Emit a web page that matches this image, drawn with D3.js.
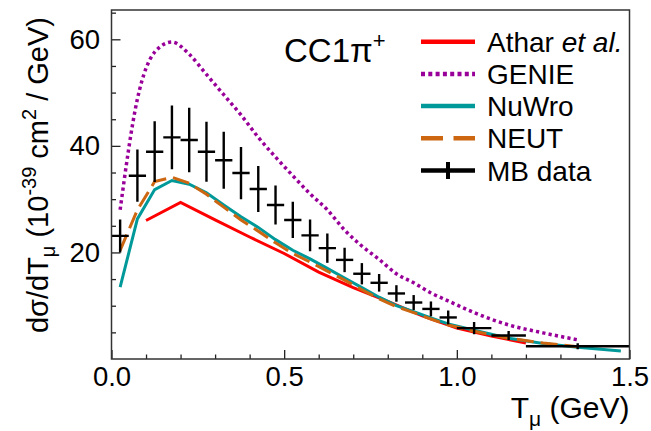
<!DOCTYPE html>
<html><head><meta charset="utf-8">
<script src="https://cdn.jsdelivr.net/npm/d3@7"></script>
<style>
body{margin:0;background:#fff}
svg{display:block}
text{font-family:"Liberation Sans",Arial,Helvetica,sans-serif;fill:#000}
</style>
</head><body>
<svg id="chart" width="651" height="431"></svg>
<script>
// ---------- data ----------
const xTicks = [0, 0.5, 1.0, 1.5];
const xTickLabels = ["0.0", "0.5", "1.0", "1.5"];
const xMinorTicks = [0.1,0.2,0.3,0.4,0.6,0.7,0.8,0.9,1.1,1.2,1.3,1.4];
const yTicks = [20, 40, 60];
const yTickLabels = ["20", "40", "60"];
const yMinorTicks = [5,10,15,25,30,35,45,50,55,65];

// MiniBooNE data
const mbLo  = [0,0.05,0.1,0.15,0.2,0.25,0.3,0.35,0.4,0.45,0.5,0.55,0.6,0.65,0.7,0.75,0.8,0.85,0.9,0.95,1.0,1.1,1.2];
const mbHi  = [0.05,0.1,0.15,0.2,0.25,0.3,0.35,0.4,0.45,0.5,0.55,0.6,0.65,0.7,0.75,0.8,0.85,0.9,0.95,1.0,1.1,1.2,1.5];
const mbT   = [0.025,0.075,0.125,0.175,0.225,0.275,0.325,0.375,0.425,0.475,0.525,0.575,0.625,0.675,0.725,0.775,0.825,0.875,0.925,0.975,1.05,1.15,1.35];
const mbVal = [23.1,34.4,38.9,41.6,41.1,38.9,37.3,34.9,31.9,28.9,26.1,23.2,20.8,18.6,16.0,14.3,12.3,10.6,9.4,7.8,5.8,4.4,2.4];
const mbErr = [3.1,4.9,5.7,6.0,6.05,5.65,5.35,4.9,4.3,3.65,3.4,3.0,2.75,2.3,2.0,1.65,1.55,1.4,1.4,1.3,1.15,0.85,0.56];

// Athar et al.
const atharT   = [0.1,0.2,0.3,0.4,0.5,0.6,0.7,0.8,0.9,1.0,1.1,1.2];
const atharVal = [26.0,29.4,26.1,22.9,19.8,16.3,13.4,10.8,8.1,5.8,4.3,3.0];

// GENIE
const genieT   = [0.025,0.075,0.125,0.175,0.225,0.275,0.325,0.375,0.425,0.475,0.525,0.575,0.625,0.675,0.725,0.775,0.825,0.875,0.925,0.975,1.05,1.15,1.25,1.35];
const genieVal = [28.0,48.8,57.6,59.5,57.2,53.4,49.6,45.8,41.6,37.9,34.4,31.0,28.0,24.2,21.2,18.7,16.0,14.3,12.4,10.9,8.7,6.4,4.9,3.6];

// NuWro
const nuwroT   = [0.025,0.075,0.125,0.175,0.225,0.275,0.325,0.375,0.425,0.475,0.525,0.575,0.625,0.675,0.725,0.775,0.825,0.875,0.925,0.975,1.05,1.15,1.25,1.35,1.475];
const nuwroVal = [13.5,26.3,31.8,33.5,32.8,31.2,28.9,26.7,24.7,22.4,20.4,18.8,17.0,15.2,13.4,11.6,10.0,8.9,7.7,6.6,5.4,3.9,2.9,2.2,1.5];

// NEUT
const neutT   = [0.025,0.075,0.125,0.175,0.225,0.275,0.325,0.375,0.425,0.475,0.525,0.575,0.625,0.675,0.725,0.775,0.825,0.875,0.925,0.975,1.05,1.15,1.25,1.35];
const neutVal = [20.4,28.0,33.3,34.1,33.0,30.9,28.5,26.1,24.0,21.8,19.8,18.2,16.5,14.8,13.0,11.3,9.8,8.7,7.5,6.4,5.2,3.9,3.0,2.3];

const legendLabels = ["Athar", "GENIE", "NuWro", "NEUT", "MB data"];
const colors = {athar:"#ff0000", genie:"#990099", nuwro:"#009999", neut:"#cc6610", data:"#000000"};

// ---------- layout ----------
const svg = d3.select("#chart");
const X0 = 111.5, X1 = 629.5, Y0 = 359, Y1 = 10;
const x = d3.scaleLinear().domain([0, 1.5]).range([X0, X1]);
const y = d3.scaleLinear().domain([0, 65.5]).range([Y0, Y1]);

svg.append("rect").attr("width",651).attr("height",431).attr("fill","#fff");

svg.append("defs").append("clipPath").attr("id","clip")
  .append("rect").attr("x",X0).attr("y",Y1).attr("width",X1-X0).attr("height",Y0-Y1);

// axes (ticks inward)
svg.append("g").attr("transform",`translate(0,${Y0})`)
  .call(d3.axisBottom(x).tickValues(xTicks).tickSize(-9).tickPadding(7)
        .tickFormat((d,i)=>xTickLabels[i]));
svg.append("g").attr("transform",`translate(0,${Y0})`)
  .call(d3.axisBottom(x).tickValues(xMinorTicks).tickSize(-4.5).tickFormat(""));
svg.append("g").attr("transform",`translate(${X0},0)`)
  .call(d3.axisLeft(y).tickValues(yTicks).tickSize(-9).tickPadding(11.5)
        .tickFormat((d,i)=>yTickLabels[i]));
svg.append("g").attr("transform",`translate(${X0},0)`)
  .call(d3.axisLeft(y).tickValues(yMinorTicks).tickSize(-4.5).tickFormat(""));
svg.selectAll(".domain").remove();
svg.selectAll(".tick line").attr("stroke","#222").attr("stroke-width",1.3);
svg.selectAll(".tick text").attr("font-size",27.5).attr("font-family","Liberation Sans, Arial, sans-serif").attr("fill","#000");

// curves
const plot = svg.append("g").attr("clip-path","url(#clip)");
const lineL = d3.line().x(d=>x(d[0])).y(d=>y(d[1]));
const lineS = d3.line().x(d=>x(d[0])).y(d=>y(d[1])).curve(d3.curveMonotoneX);

plot.append("path").datum(d3.zip(atharT, atharVal)).attr("d", lineL)
  .attr("fill","none").attr("stroke",colors.athar).attr("stroke-width",3);
plot.append("path").datum(d3.zip(genieT, genieVal)).attr("d", lineS)
  .attr("fill","none").attr("stroke",colors.genie).attr("stroke-width",3.5)
  .attr("stroke-dasharray","3.2,3.2");
plot.append("path").datum(d3.zip(nuwroT, nuwroVal)).attr("d", lineL)
  .attr("fill","none").attr("stroke",colors.nuwro).attr("stroke-width",3);
plot.append("path").datum(d3.zip(neutT, neutVal)).attr("d", lineL)
  .attr("fill","none").attr("stroke",colors.neut).attr("stroke-width",3)
  .attr("stroke-dasharray","17,7");

// data crosses
const dg = plot.append("g").attr("stroke","#000").attr("stroke-width",2.4);
mbT.forEach((t,i)=>{
  dg.append("line").attr("x1",x(mbLo[i])).attr("x2",x(mbHi[i]))
    .attr("y1",y(mbVal[i])).attr("y2",y(mbVal[i]));
  dg.append("line").attr("x1",x(t)).attr("x2",x(t))
    .attr("y1",y(mbVal[i]-mbErr[i])).attr("y2",y(mbVal[i]+mbErr[i]));
});

// frame
svg.append("rect").attr("x",X0).attr("y",Y1).attr("width",X1-X0).attr("height",Y0-Y1)
  .attr("fill","none").attr("stroke","#333").attr("stroke-width",1.5);

// axis titles
const xt = svg.append("text").attr("x",X1).attr("y",418).attr("text-anchor","end").attr("font-size",30);
xt.append("tspan").text("T");
xt.append("tspan").attr("font-size",21).attr("dy",8).text("μ");
xt.append("tspan").attr("dy",-8).text(" (GeV)");

const yt = svg.append("text").attr("transform","translate(48,17) rotate(-90)")
  .attr("text-anchor","end").attr("font-size",29);
yt.append("tspan").text("dσ/dT");
yt.append("tspan").attr("font-size",20).attr("dy",7).text("μ");
yt.append("tspan").attr("dy",-7).text(" (10");
yt.append("tspan").attr("font-size",20).attr("dy",-12).text("-39");
yt.append("tspan").attr("dy",12).text(" cm");
yt.append("tspan").attr("font-size",20).attr("dy",-12).text("2");
yt.append("tspan").attr("dy",12).text(" / GeV)");

// process label
const tl = svg.append("text").attr("x",284).attr("y",62).attr("font-size",33);
tl.append("tspan").text("CC1π");
tl.append("tspan").attr("font-size",22).attr("dy",-14).text("+");

// legend
const lx0 = 421, lx1 = 475, ltx = 487;
const rows = [41.7, 73.9, 106.1, 138.3, 170.5];
const lg = svg.append("g");
lg.append("line").attr("x1",lx0).attr("x2",lx1).attr("y1",rows[0]).attr("y2",rows[0])
  .attr("stroke",colors.athar).attr("stroke-width",4.5);
lg.append("line").attr("x1",lx0).attr("x2",lx1).attr("y1",rows[1]).attr("y2",rows[1])
  .attr("stroke",colors.genie).attr("stroke-width",4.5).attr("stroke-dasharray","4,3.3");
lg.append("line").attr("x1",lx0).attr("x2",lx1).attr("y1",rows[2]).attr("y2",rows[2])
  .attr("stroke",colors.nuwro).attr("stroke-width",4.5);
lg.append("line").attr("x1",lx0).attr("x2",lx1).attr("y1",rows[3]).attr("y2",rows[3])
  .attr("stroke",colors.neut).attr("stroke-width",4.5).attr("stroke-dasharray","22,10.5");
lg.append("line").attr("x1",lx0).attr("x2",lx1).attr("y1",rows[4]).attr("y2",rows[4])
  .attr("stroke",colors.data).attr("stroke-width",4.5);
lg.append("line").attr("x1",(lx0+lx1)/2).attr("x2",(lx0+lx1)/2).attr("y1",rows[4]-8.5).attr("y2",rows[4]+8.5)
  .attr("stroke",colors.data).attr("stroke-width",4);

const t0 = lg.append("text").attr("x",ltx).attr("y",rows[0]+10).attr("font-size",28);
t0.append("tspan").text(legendLabels[0] + " ");
t0.append("tspan").attr("font-style","italic").text("et al.");
legendLabels.slice(1).forEach((s,i)=>{
  lg.append("text").attr("x",ltx).attr("y",rows[i+1]+10).attr("font-size",28).text(s);
});
</script>
</body></html>
